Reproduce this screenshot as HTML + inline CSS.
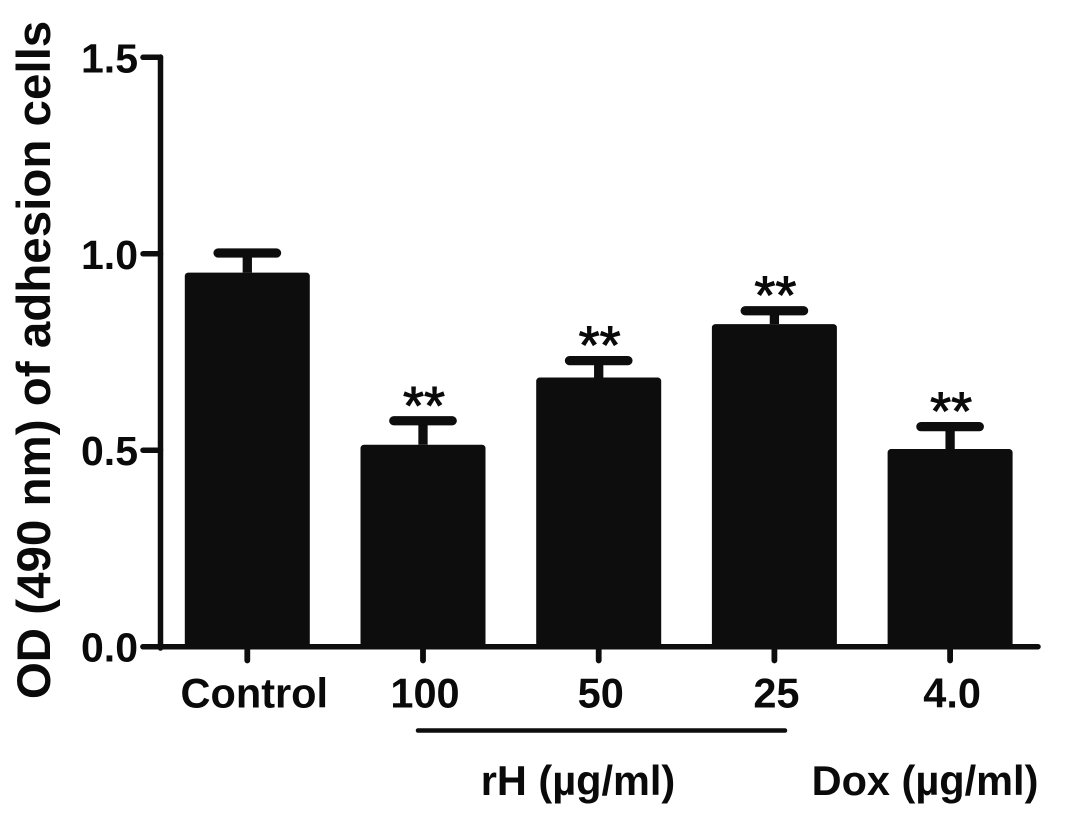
<!DOCTYPE html>
<html>
<head>
<meta charset="utf-8">
<style>
html,body{margin:0;padding:0;background:#fff;}
svg{display:block;}
text{font-family:"Liberation Sans",sans-serif;font-weight:bold;fill:#0a0a0a;}
</style>
</head>
<body>
<svg id="chart" width="1087" height="815" viewBox="0 0 1087 815" xmlns="http://www.w3.org/2000/svg">
<g id="plot"></g>
<text transform="translate(50,360) rotate(-90)" text-anchor="middle" font-size="47.5">OD (490 nm) of adhesion cells</text>
<line x1="418" x2="785" y1="730.5" y2="730.5" stroke="#0d0d0d" stroke-width="4.5" stroke-linecap="round"/>
<text x="578" y="795" text-anchor="middle" font-size="41.5">rH (µg/ml)</text>
<text x="925" y="795" text-anchor="middle" font-size="41.5">Dox (µg/ml)</text>
</svg>
<script>
const categories = ['Control', '100', '50', '25', '4.0'];
const means = [0.952, 0.514, 0.685, 0.821, 0.503];
const errors = [0.05, 0.061, 0.043, 0.034, 0.057];
const significance = ['', '**', '**', '**', '**'];
const yTicks = ['0.0', '0.5', '1.0', '1.5'];

const NS = 'http://www.w3.org/2000/svg';
const plot = document.getElementById('plot');
const INK = '#0d0d0d';
function yPos(v) { return 646.7 - (v / 1.5) * 589.4; }
function xPos(i) { return 247.3 + i * 175.7; }
function add(tag, attrs, parent) {
  const el = document.createElementNS(NS, tag);
  for (const k in attrs) el.setAttribute(k, attrs[k]);
  (parent || plot).appendChild(el);
  return el;
}
const barWidth = 125;

categories.forEach(function (c, i) {
  const cx = xPos(i);
  const top = yPos(means[i]);
  const capY = yPos(means[i] + errors[i]);
  const g = add('g', {});
  
  
  const stem = add('line', {x1: cx, x2: cx, y1: top, y2: capY, stroke: INK, 'stroke-width': 9.3}, g);
  
  
  const cap = add('line', {x1: cx - 29.2, x2: cx + 29.2, y1: capY, y2: capY, stroke: INK, 'stroke-width': 9.3, 'stroke-linecap': 'round'}, g);
  
  
  const bar = add('rect', {x: cx - barWidth / 2, y: top, width: barWidth, height: 646.7 - top, fill: INK, rx: 3.5}, g);
  
  
  const tick = add('line', {x1: cx, x2: cx, y1: 647, y2: 660.5, stroke: INK, 'stroke-width': 5.8, 'stroke-linecap': 'round'}, g);
  
  
  const label = add('text', {x: cx + (i === 0 ? 7 : 2), y: 707.5, 'text-anchor': 'middle', 'font-size': 41.5}, g);
  
  
  label.textContent = c;
  if (significance[i]) {
    const star = add('text', {x: cx + 1, y: capY + 3, 'text-anchor': 'middle', 'font-size': 54, stroke: '#0a0a0a', 'stroke-width': 1, style: 'font-weight:normal'}, g);
    
    
    star.textContent = significance[i];
  }
});

const yAxis = add('line', {x1: 160.5, x2: 160.5, y1: 57, y2: 648, stroke: INK, 'stroke-width': 5.5, 'stroke-linecap': 'round'});


const xAxis = add('line', {x1: 143, x2: 1038, y1: 646.7, y2: 646.7, stroke: INK, 'stroke-width': 5.5, 'stroke-linecap': 'round'});



yTicks.forEach(function (t) {
  const y = yPos(parseFloat(t));
  const tick = add('line', {x1: 143, x2: 160.5, y1: y, y2: y, stroke: INK, 'stroke-width': 5.5, 'stroke-linecap': 'round'});
  
  
  const label = add('text', {x: 138, y: y + 15, 'text-anchor': 'end', 'font-size': 41});
  
  
  label.textContent = t;
});
</script>
</body>
</html>
